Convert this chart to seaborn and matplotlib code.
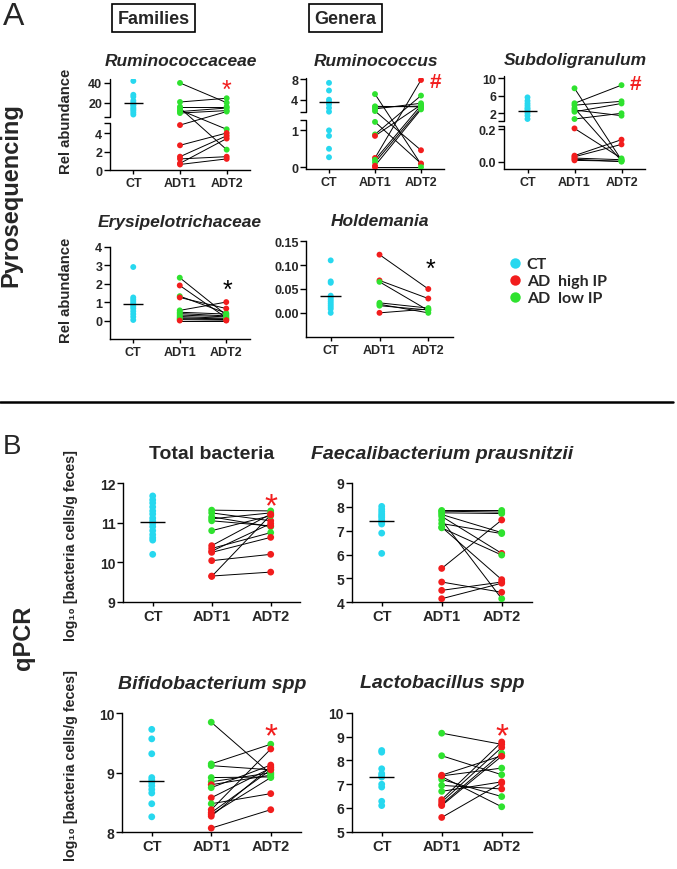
import numpy as np
import pandas as pd
import seaborn as sns
import matplotlib.pyplot as plt
from matplotlib.lines import Line2D

visits = ["CT", "ADT1", "ADT2"]
group_names = {"C": "CT", "H": "AD  high IP", "L": "AD  low IP"}
palette = {"CT": "#27d8ef", "AD  high IP": "#f21d1d", "AD  low IP": "#2fe22f"}

# ---- Pyrosequencing (relative abundance) ----
rumfam_ct = [42, 28, 26, 22, 20, 18, 17, 15, 13.5, 12, 10, 8]
rumfam_ct_mean = 20
rumfam_adt1 = [40, 20.7, 15.9, 14.6, 12.5, 11, 9.5, 4.86, 2.67, 1.44, 1.2, 0.72, 0.6]
rumfam_ip1 = "LLLLLLLHHHHHH"
rumfam_adt2 = [20, 24.5, 15.9, 2.2, 4.4, 14.6, 12, 11.0, 4.0, 3.7, 1.44, 3.4, 1.2]
rumfam_ip2 = "LLLLLLLLHHHHH"

rum_ct = [7.3, 5.8, 4.0, 3.5, 3.1, 2.4, 1.65, 1.0, 0.85, 0.5, 0.27]
rum_ct_mean = 3.55
rum_adt1 = [5.1, 2.7, 2.55, 1.78, 2.2, 1.23, 0.89, 0.85, 0.25, 0.2, 0.13, 0.04, 0.0]
rum_ip1 = "LLLLLLLHHLLHH"
rum_adt2 = [0.08, 2.6, 2.75, 0.46, 3.3, 0.1, 4.8, 3.0, 7.86, 2.9, 2.4, 2.1, 0.0]
rum_ip2 = "LHLHLHLLHLLLL"

sub_ct = [5.6, 4.8, 4.2, 3.7, 3.2, 2.9, 2.5, 2.0, 1.4, 0.64]
sub_ct_mean = 2.5
sub_adt1 = [7.68, 4.24, 3.8, 3.1, 2.3, 2.7, 0.64, 0.204, 0.037, 0.03, 0.022, 0.015, 0.008]
sub_ip1 = "LLLLLLLHHHHHH"
sub_adt2 = [0.01, 8.4, 4.7, 0.005, 4.2, 1.4, 1.95, 0.02, 0.135, 0.106, 0.012, 0.0, 0.003]
sub_ip2 = "LLLLLLLLHHLLL"

ery_ct = [2.9, 1.25, 1.15, 1.05, 0.95, 0.85, 0.75, 0.65, 0.5, 0.35, 0.2, 0.03]
ery_ct_mean = 0.88
ery_adt1 = [2.32, 1.9, 1.32, 1.25, 0.55, 0.45, 0.38, 0.3, 0.22, 0.15, 0.1, 0.05, 0.0]
ery_ip1 = "LHLHLLLLLLLLH"
ery_adt2 = [0.3, 0.15, 0.4, 0.65, 1.0, 0.35, 0.25, 0.2, 0.12, 0.08, 0.05, 0.02, 0.0]
ery_ip2 = "LLLHHLLLLLLHH"

hol_ct = [0.11, 0.066, 0.063, 0.036, 0.032, 0.028, 0.024, 0.02, 0.016, 0.012, 0.008, 0.0]
hol_ct_mean = 0.0345
hol_adt1 = [0.122, 0.068, 0.065, 0.021, 0.018, 0.015, 0.0]
hol_ip1 = "HHLLLLH"
hol_adt2 = [0.05, 0.03, 0.005, 0.01, 0.0, 0.006, 0.008]
hol_ip2 = "HHLLLLL"

# ---- qPCR (log10 cells / g feces) ----
tot_ct = [11.68, 11.58, 11.5, 11.4, 11.3, 11.22, 11.12, 11.05, 10.98, 10.9, 10.8, 10.7, 10.62, 10.56, 10.2]
tot_ct_mean = 11.02
tot_adt1 = [11.32, 11.25, 11.15, 11.1, 11.05, 10.8, 10.42, 10.35, 10.28, 10.25, 10.04, 9.65, 9.64]
tot_ip1 = "LLLLLLHHHHHHH"
tot_adt2 = [11.3, 11.05, 10.9, 11.25, 10.92, 11.18, 11.22, 10.75, 10.98, 10.63, 10.2, 9.75, 11.2]
tot_ip2 = "LHLLHLHLHHHHH"

fpr_ct = [8.02, 7.9, 7.8, 7.7, 7.62, 7.55, 7.45, 7.35, 7.28, 6.9, 6.05]
fpr_ct_mean = 7.42
fpr_adt1 = [7.85, 7.82, 7.75, 7.68, 7.6, 7.45, 7.3, 7.15, 7.12, 5.42, 4.85, 4.5, 4.15]
fpr_ip1 = "LLLLLLLLLHHHH"
fpr_adt2 = [7.85, 7.78, 7.72, 6.92, 6.05, 4.15, 6.88, 4.95, 5.98, 7.45, 4.42, 4.85, 4.8]
fpr_ip2 = "LLLLHLLHLHHHH"

bif_ct = [9.73, 9.57, 9.32, 8.92, 8.88, 8.83, 8.78, 8.72, 8.66, 8.48, 8.26]
bif_ct_mean = 8.87
bif_adt1 = [9.85, 9.15, 9.12, 8.92, 8.85, 8.8, 8.75, 8.58, 8.48, 8.38, 8.33, 8.3, 8.27, 8.07]
bif_ip1 = "LLLLLHLHLHHHHH"
bif_adt2 = [8.98, 9.48, 9.05, 8.93, 9.0, 8.96, 9.13, 9.08, 8.65, 9.4, 9.05, 8.92, 9.1, 8.38]
bif_ip2 = "LLLLLLHHHHHLHH"

lac_ct = [8.42, 8.35, 7.65, 7.45, 7.38, 7.3, 7.0, 6.88, 6.28, 6.1]
lac_ct_mean = 7.3
lac_adt1 = [9.15, 8.2, 7.38, 7.32, 7.2, 6.95, 6.7, 6.35, 6.25, 6.15, 6.1, 5.6, 7.35]
lac_ip1 = "LLHHLLLHHHHHH"
lac_adt2 = [8.68, 7.4, 8.2, 6.05, 6.48, 6.8, 7.1, 8.78, 8.55, 8.3, 8.18, 7.05, 7.68]
lac_ip2 = "HLHLLHHHHLHHL"

sns.set_style("ticks")
plt.rcParams["font.family"] = ["Liberation Sans", "DejaVu Sans"]
plt.rcParams["font.weight"] = "bold"

W, H = 677, 870
fig = plt.figure(figsize=(W / 100, H / 100), dpi=100)


def px_axes(l, t, w, b):
    return fig.add_axes([l / W, 1 - b / H, w / W, (b - t) / H])


def ftext(x, y, s, **kw):
    return fig.text(x / W, 1 - y / H, s, **kw)


def long_table(ct, adt1, adt2, ip1, ip2):
    rows = [("CT", v, "CT", -1) for v in ct]
    for i, (a, b, s1, s2) in enumerate(zip(adt1, adt2, ip1, ip2)):
        rows.append(("ADT1", a, group_names[s1], i))
        rows.append(("ADT2", b, group_names[s2], i))
    df = pd.DataFrame(rows, columns=["visit", "value", "group", "pair"])
    df["pos"] = df["visit"].map({v: i for i, v in enumerate(visits)})
    return df


def panel(rect, ct, ct_mean, adt1, adt2, ip1, ip2, yticks, ylabels=None,
          ylim=None, brk=None, dot=18, tick_fs=9, cat_fs=9):
    ax = px_axes(*rect)
    df = long_table(ct, adt1, adt2, ip1, ip2)
    sns.lineplot(data=df[df["pair"] >= 0], x="pos", y="value", units="pair",
                 estimator=None, sort=False, color="black", lw=0.7,
                 ax=ax, legend=False, zorder=2)
    sns.scatterplot(data=df, x="pos", y="value", hue="group", palette=palette,
                    s=dot, linewidth=0, ax=ax, legend=False, zorder=3)
    ax.hlines(ct_mean, -0.21, 0.21, color="black", lw=1.0, zorder=4)
    sns.despine(ax=ax)
    if brk is not None:
        # broken y axis: piecewise-linear scale with a short gap
        v, p = brk
        s_lo = (p[1] - p[0]) / (v[1] - v[0])
        s_hi = (p[-1] - p[-2]) / (v[-1] - v[-2])
        vv = np.r_[v[0] - 1e3, v, v[-1] + 1e3]
        pp = np.r_[p[0] - 1e3 * s_lo, p, p[-1] + 1e3 * s_hi]
        ax.set_yscale("function", functions=(lambda y: np.interp(y, vv, pp),
                                             lambda q: np.interp(q, pp, vv)))
        ax.spines["left"].set_visible(False)
        tr = ax.get_yaxis_transform()
        ax.plot([0, 0], [v[0], v[1]], transform=tr, color="k", lw=1, clip_on=False)
        ax.plot([0, 0], [v[2], v[3]], transform=tr, color="k", lw=1, clip_on=False)
        ax.plot([0, 0], [v[1], v[2]], transform=tr, ls="none", marker=0, ms=4,
                mew=1, color="k", clip_on=False)
        ylim = (v[0], v[-1])
    ax.set_ylim(*ylim)
    ax.set_xlim(-0.5, 2.5)
    ax.set_xticks([0, 1, 2], visits, fontsize=cat_fs, fontweight="bold")
    ax.set_yticks(yticks)
    ax.set_yticklabels(ylabels if ylabels else [str(t) for t in yticks],
                       fontsize=tick_fs, fontweight="bold")
    ax.set_xlabel("")
    ax.set_ylabel("")
    for s in ["left", "bottom"]:
        ax.spines[s].set_linewidth(1)
        ax.spines[s].set_color("black")
    ax.tick_params(axis="x", length=3, width=1, pad=2, color="black")
    ax.tick_params(axis="y", length=4, width=1, pad=1.5, color="black")
    return ax


# ---- A: pyrosequencing panels ----
panel((110, 80, 140, 171), rumfam_ct, rumfam_ct_mean, rumfam_adt1, rumfam_adt2,
      rumfam_ip1, rumfam_ip2, [0, 2, 4, 20, 40],
      brk=([0, 5.05, 5.2, 44], [0, 46.7, 52.7, 91]))
panel((306, 79, 138, 170), rum_ct, rum_ct_mean, rum_adt1, rum_adt2,
      rum_ip1, rum_ip2, [0, 1, 4, 8],
      brk=([-0.05, 1.29, 1.53, 8.25], [0, 49.3, 56.7, 91]))
panel((504, 77, 141, 170), sub_ct, sub_ct_mean, sub_adt1, sub_adt2,
      sub_ip1, sub_ip2, [0.0, 0.2, 2, 6, 10], ["0.0", "0.2", "2", "6", "10"],
      brk=([-0.045, 0.217, 0.25, 10.5], [0, 42.7, 48.3, 93]))
panel((110, 247.7, 139.5, 340), ery_ct, ery_ct_mean, ery_adt1, ery_adt2,
      ery_ip1, ery_ip2, [0, 1, 2, 3, 4], ylim=(-1, 4))
panel((306.3, 242.3, 146.4, 337.7), hol_ct, hol_ct_mean, hol_adt1, hol_adt2,
      hol_ip1, hol_ip2, [0, 0.05, 0.1, 0.15], ["0.00", "0.05", "0.10", "0.15"],
      ylim=(-0.05, 0.15))

# ---- B: qPCR panels ----
panel((123.2, 484.3, 177, 602.7), tot_ct, tot_ct_mean, tot_adt1, tot_adt2,
      tot_ip1, tot_ip2, [9, 10, 11, 12], ylim=(9, 12), dot=24, tick_fs=10, cat_fs=10.5)
panel((351.7, 484, 180, 603.3), fpr_ct, fpr_ct_mean, fpr_adt1, fpr_adt2,
      fpr_ip1, fpr_ip2, [4, 5, 6, 7, 8, 9], ylim=(4, 9), dot=24, tick_fs=10, cat_fs=10.5)
panel((122, 714.3, 178.5, 833.3), bif_ct, bif_ct_mean, bif_adt1, bif_adt2,
      bif_ip1, bif_ip2, [8, 9, 10], ylim=(8, 10), dot=24, tick_fs=10, cat_fs=10.5)
panel((351.7, 714, 180, 832.7), lac_ct, lac_ct_mean, lac_adt1, lac_adt2,
      lac_ip1, lac_ip2, [5, 6, 7, 8, 9, 10], ylim=(5, 10), dot=24, tick_fs=10, cat_fs=10.5)

# ---- panel titles ----
ital = dict(ha="center", va="center", fontweight="bold", style="italic")
ftext(180.5, 61, "Ruminococcaceae", fontsize=12.5, **ital)
ftext(375.5, 61, "Ruminococcus", fontsize=12.5, **ital)
ftext(575, 60, "Subdoligranulum", fontsize=12.5, **ital)
ftext(180, 222, "Erysipelotrichaceae", fontsize=12.5, **ital)
ftext(380, 222, "Holdemania", fontsize=12.5, **ital)
ftext(211.5, 455, "Total bacteria", fontsize=14, ha="center", va="center", fontweight="bold")
ftext(441.7, 455, "Faecalibacterium prausnitzii", fontsize=14, **ital)
ftext(212, 685, "Bifidobacterium spp", fontsize=14, **ital)
ftext(442, 684, "Lactobacillus spp", fontsize=14, **ital)

# ---- axis labels ----
for yc in [121, 290]:
    ftext(66, yc, "Rel abundance", rotation=90, fontsize=10.7, ha="center", va="center")
for yc in [546, 766]:
    ftext(71, yc, "log₁₀ [bacteria cells/g feces]", rotation=90, fontsize=10.3,
          ha="center", va="center")


# ---- significance marks (centre of glyph in px) ----
def sig(x, y, s, color, fs):
    k = 0.575 if s == "*" else 0.36
    ftext(x, y + k * fs * 100 / 72, s, color=color, fontsize=fs, ha="center",
          va="baseline", fontweight="normal" if s == "*" else "bold")


sig(226.7, 83.5, "*", "#f21d1d", 18)
sig(435, 81, "#", "#f21d1d", 15)
sig(635, 82, "#", "#f21d1d", 15)
sig(227.7, 283, "*", "black", 18)
sig(430, 262, "*", "black", 18)
sig(270.7, 497, "*", "#f21d1d", 24)
sig(270.7, 727, "*", "#f21d1d", 24)
sig(501.7, 727, "*", "#f21d1d", 24)

# ---- section labels ----
ftext(3, 17, "A", fontsize=23, fontweight="normal", ha="left", va="center")
ftext(3, 447, "B", fontsize=20, fontweight="normal", ha="left", va="center")
box = dict(boxstyle="square,pad=0.3", fc="white", ec="black", lw=1.2)
ftext(153.5, 19, "Families", fontsize=13, ha="center", va="center", bbox=box)
ftext(345.5, 19, "Genera", fontsize=13, ha="center", va="center", bbox=box)
ftext(11, 195, "Pyrosequencing", rotation=90, fontsize=17, ha="center", va="center")
ftext(24, 638, "qPCR", rotation=90, fontsize=17, ha="center", va="center")
fig.add_artist(Line2D([0, 673 / W], [1 - 402.7 / H] * 2, color="black", lw=1.8))

# ---- legend ----
handles = [Line2D([], [], ls="none", marker="o", ms=7.5, mec="none", color=palette[g])
           for g in palette]
fig.legend(handles, list(palette), loc="upper left",
           bbox_to_anchor=(510 / W, 1 - 258 / H), frameon=False,
           prop=dict(family="Lato", weight="bold", size=11.5),
           handlelength=0.6, handletextpad=0.45, borderpad=0, borderaxespad=0,
           labelspacing=0.18)

fig.savefig("out.png", dpi=100)
